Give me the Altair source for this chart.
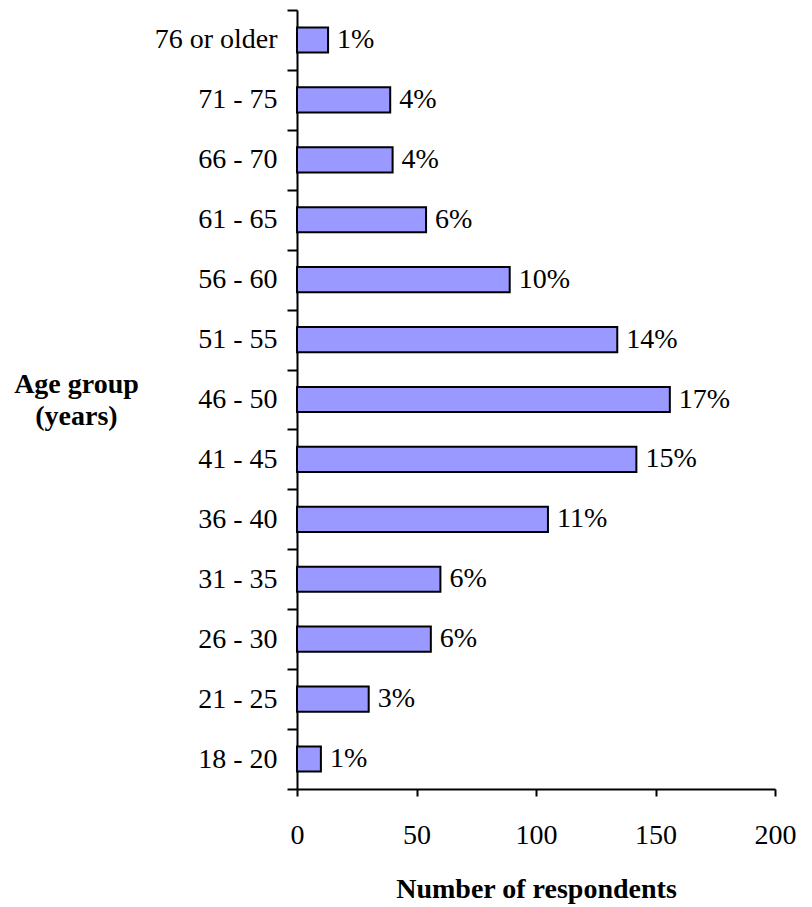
import altair as alt
import pandas as pd

# Respondents by age group
age_groups = ["18 - 20", "21 - 25", "26 - 30", "31 - 35", "36 - 40", "41 - 45",
              "46 - 50", "51 - 55", "56 - 60", "61 - 65", "66 - 70\u00a0", "71 - 75",
              "76 or older"]
respondents = [10, 30, 56, 60, 105, 142, 156, 134, 89, 54, 40, 39, 13]
share_labels = ["1%", "3%", "6%", "6%", "11%", "15%", "17%", "14%", "10%", "6%",
                "4%", "4%", "1%"]
x_ticks = [0, 50, 100, 150, 200]

df = pd.DataFrame({"age": age_groups, "n": respondents, "share": share_labels})

FONT = "Liberation Serif"
order = list(reversed(age_groups))

y_enc = alt.Y(
    "age:N",
    sort=order,
    scale=alt.Scale(paddingInner=0, paddingOuter=0),
    axis=alt.Axis(
        title=["Age group", "(years)"],
        titleAngle=0,
        titleAlign="center",
        titleBaseline="alphabetic",
        titleX=-221,
        titleY=382,
        titleLineHeight=32,
        titleFont=FONT,
        titleFontSize=28,
        titleFontWeight="bold",
        titleColor="black",
        labelFont=FONT,
        labelFontSize=28,
        labelColor="black",
        labelPadding=10,
        tickBand="extent",
        tickSize=10,
        tickWidth=2,
        tickColor="black",
        domainColor="black",
        domainWidth=2,
    ),
)

x_enc = alt.X(
    "n:Q",
    scale=alt.Scale(domain=[0, 200], nice=False),
    axis=alt.Axis(
        values=x_ticks,
        title="Number of respondents",
        titleFont=FONT,
        titleFontSize=28,
        titleFontWeight="bold",
        titleColor="black",
        titleBaseline="alphabetic",
        titleX=239,
        titleY=108,
        labelFont=FONT,
        labelFontSize=28,
        labelColor="black",
        labelPadding=25,
        labelFlush=False,
        tickSize=7,
        tickWidth=2,
        tickColor="black",
        domainColor="black",
        domainWidth=2,
        grid=False,
    ),
)

bars = alt.Chart(df).mark_bar(
    color="#9999FF", stroke="black", strokeWidth=2,
    height=alt.RelativeBandSize(0.42),
).encode(x=x_enc, y=y_enc)

labels = alt.Chart(df).mark_text(
    align="left", baseline="middle", dx=9, font=FONT, fontSize=28, color="black"
).encode(x="n:Q", y=alt.Y("age:N", sort=order), text="share:N")

chart = (
    alt.layer(bars, labels)
    .properties(
        width=478,
        height=779,
        autosize=alt.AutoSizeParams(type="none"),
        padding={"left": 297, "top": 10, "right": 37, "bottom": 118},
        background="white",
    )
    .configure_view(stroke=None)
)

chart.save("out.html", embed_options={"renderer": "svg", "actions": False})
